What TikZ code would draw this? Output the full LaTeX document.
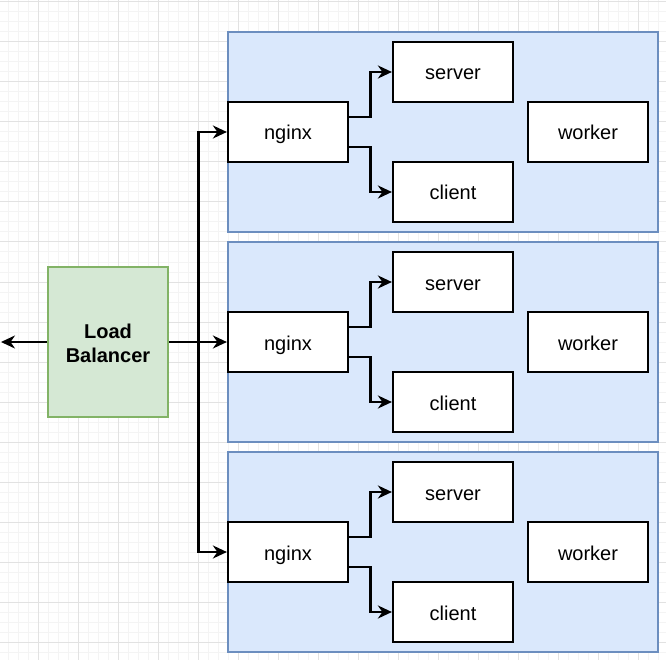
\documentclass[tikz,border=0pt]{standalone}
\usepackage{fontspec}
\setmainfont{Liberation Sans}
\usetikzlibrary{arrows.meta}
\definecolor{gridminor}{HTML}{F4F4F4}
\definecolor{gridmajor}{HTML}{E2E2E2}
\definecolor{contfill}{HTML}{DAE8FC}
\definecolor{contdraw}{HTML}{6C8EBF}
\definecolor{lbfill}{HTML}{D5E8D4}
\definecolor{lbdraw}{HTML}{82B366}
\begin{document}
\begin{tikzpicture}[x=1pt,y=-1pt,
  cont/.style={draw=contdraw,fill=contfill,line width=1.8pt,minimum width=430pt,minimum height=200pt,inner sep=0pt},
  box/.style={draw=black,fill=white,line width=2.2pt,minimum width=120pt,minimum height=60pt,inner sep=0pt,text height=18pt,text depth=2pt,font=\fontsize{20}{24}\selectfont},
  lbbox/.style={draw=lbdraw,fill=lbfill,line width=2pt,minimum width=120pt,minimum height=150pt,inner sep=0pt,align=center,font=\fontsize{20}{24}\selectfont\bfseries},
  conn/.style={draw=black,line width=2.4pt,-{Stealth[length=14pt,width=13pt,inset=4.5pt]}},
  gminor/.style={draw=gridminor,line width=1pt},
  gmajor/.style={draw=gridmajor,line width=1pt}
]
\useasboundingbox (0,0) rectangle (666,660);
\fill[white] (0,0) rectangle (666,660);
% grid
\foreach \k in {0,...,65} {
  \draw[gminor] (8+10*\k,0) -- (8+10*\k,660);
  \draw[gminor] (0,2+10*\k) -- (666,2+10*\k);
}
\foreach \k in {0,...,15} \draw[gmajor] (38+40*\k,0) -- (38+40*\k,660);
\foreach \k in {0,...,16} \draw[gmajor] (0,2+40*\k) -- (666,2+40*\k);
% load balancer
\node[lbbox] (lb) at (108,342) {};
\node[font=\fontsize{20}{24}\selectfont\bfseries,align=center,inner sep=0pt] (lbtext) at (108,343) {Load\\Balancer};
\coordinate (out) at (1,342);
% groups
\foreach \i/\dy in {1/0,2/210,3/420} {
  \node[cont] (c\i) at (443,132+\dy) {};
  \node[box] (ng\i) at (288,132+\dy) {nginx};
  \node[box] (sv\i) at (453,72+\dy) {server};
  \node[box] (cl\i) at (453,192+\dy) {client};
  \node[box] (wk\i) at (588,132+\dy) {worker};
  \draw[conn] ([yshift=15pt]ng\i.east) -- ++(21.5,0) |- (sv\i.west);
  \draw[conn] ([yshift=-15pt]ng\i.east) -- ++(21.5,0) |- (cl\i.west);
}
% load balancer connectors
\draw[conn] (lb.west) -- (out);
\draw[conn] (lb.east) -- (ng2.west);
\draw[conn] (lb.east) -- ++(29.5,0) |- (ng1.west);
\draw[conn] (lb.east) -- ++(29.5,0) |- (ng3.west);
\end{tikzpicture}
\end{document}
